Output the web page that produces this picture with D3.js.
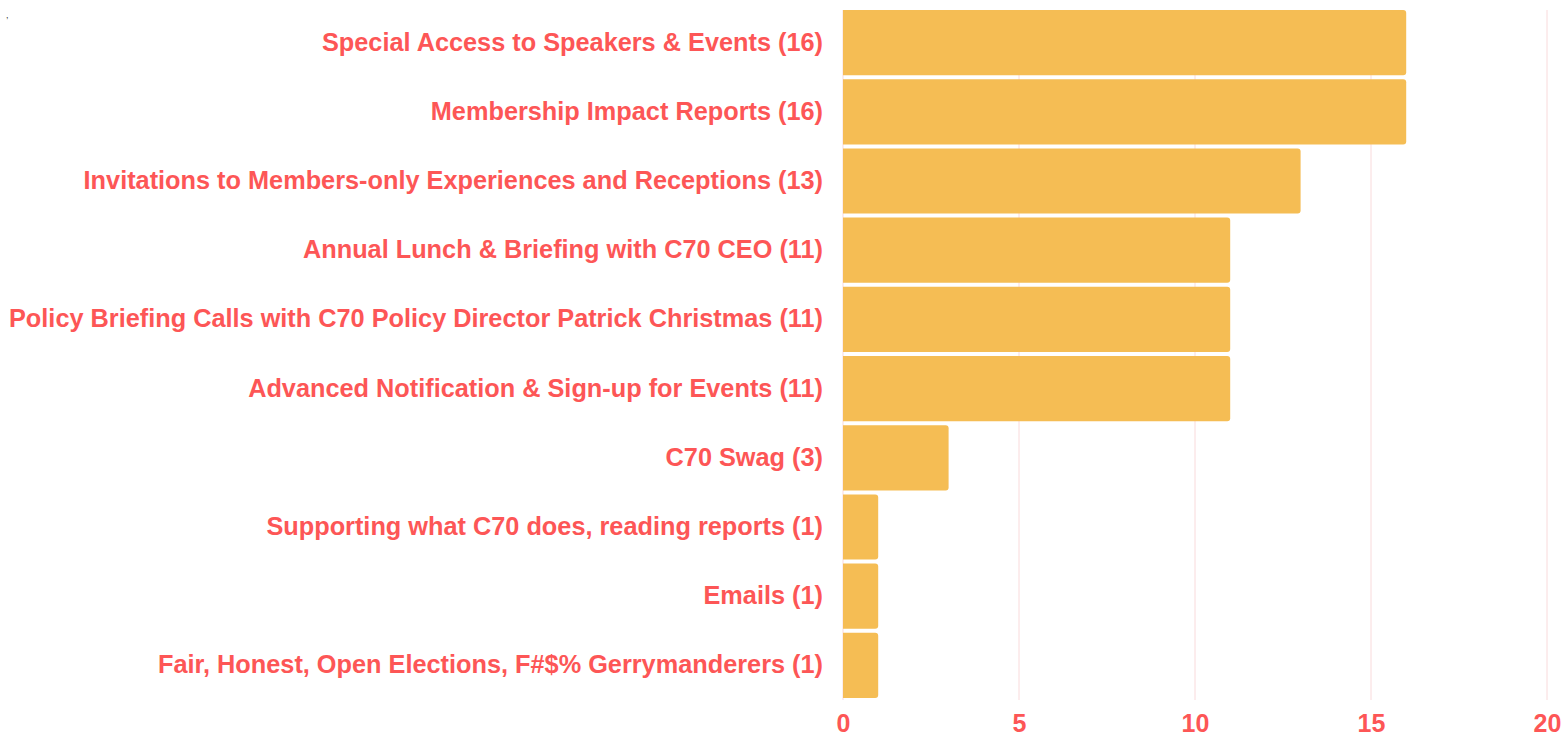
<!DOCTYPE html>
<html>
<head>
<meta charset="utf-8">
<script src="https://cdn.jsdelivr.net/npm/d3@7"></script>
<style>
  body { margin: 0; background: #fff; }
  text { font-family: 'Liberation Sans', Arial, sans-serif; }
</style>
</head>
<body>
<div id="chart"></div>
<script>
const categories = [
  'Special Access to Speakers & Events',
  'Membership Impact Reports',
  'Invitations to Members-only Experiences and Receptions',
  'Annual Lunch & Briefing with C70 CEO',
  'Policy Briefing Calls with C70 Policy Director Patrick Christmas',
  'Advanced Notification & Sign-up for Events',
  'C70 Swag',
  'Supporting what C70 does, reading reports',
  'Emails',
  'Fair, Honest, Open Elections, F#$% Gerrymanderers'
]
const counts = [16, 16, 13, 11, 11, 11, 3, 1, 1, 1]
const xTicks = [0, 5, 10, 15, 20]

const margin = { top: 10, left: 843 }

const data = categories.map((c, i) => ({ label: c, value: counts[i] }))

const svg = d3
  .select('#chart')
  .append('svg')
  .attr('width', 1563)
  .attr('height', 738)

svg
  .append('text')
  .text(',')
  .attr('x', 6)
  .attr('y', 18)
  .style('font-size', 9)
  .attr('fill', '#333')

const g = svg
  .append('g')
  .attr('transform', 'translate(' + margin.left + ',' + margin.top + ')')

const xScale = d3.scaleLinear().domain([0, 20]).range([0, 704])
const yScale = d3
  .scaleBand()
  .domain(categories)
  .range([0, 688])
  .paddingInner(0.058)
  .paddingOuter(0)

// grid lines
g.selectAll('.grid')
  .data(xTicks)
  .enter()
  .append('line')
  .attr('class', 'grid')
  .attr('x1', d => xScale(d))
  .attr('x2', d => xScale(d))
  .attr('y1', 0)
  .attr('y2', 690)
  .attr('stroke', '#f9dadb')
  .attr('stroke-width', 1)

// bars: square on the left, rounded on the right
const r = 3
g.selectAll('.bar')
  .data(data)
  .enter()
  .append('path')
  .attr('class', 'bar')
  .attr('d', function(d) {
    const x0 = 0
    const x1 = xScale(d.value)
    const y0 = yScale(d.label)
    const y1 = y0 + yScale.bandwidth()
    return 'M' + x0 + ',' + y0 +
      'H' + (x1 - r) +
      'Q' + x1 + ',' + y0 + ' ' + x1 + ',' + (y0 + r) +
      'V' + (y1 - r) +
      'Q' + x1 + ',' + y1 + ' ' + (x1 - r) + ',' + y1 +
      'H' + x0 + 'Z'
  })
  .attr('fill', '#f5bd54')

// category labels
g.selectAll('.label')
  .data(data)
  .enter()
  .append('text')
  .attr('class', 'label')
  .text(d => d.label + ' (' + d.value + ')')
  .attr('x', -20)
  .attr('y', d => yScale(d.label) + yScale.bandwidth() / 2 - 1)
  .attr('text-anchor', 'end')
  .attr('dominant-baseline', 'central')
  .attr('fill', '#fd5656')
  .style('font-size', '25.3px')
  .style('font-weight', 'bold')

// x axis
const xAxis = d3.axisBottom(xScale).tickValues(xTicks).tickSize(0).tickPadding(0)
const axisG = g
  .append('g')
  .attr('transform', 'translate(0,' + 704 + ')')
  .call(xAxis)
axisG.select('.domain').remove()
axisG
  .selectAll('text')
  .attr('fill', '#fd5656')
  .attr('dy', '0.71em')
  .style('font-size', '25px')
  .style('font-weight', 'bold')
  .style('font-family', "'Liberation Sans', Arial, sans-serif")
</script>
</body>
</html>
